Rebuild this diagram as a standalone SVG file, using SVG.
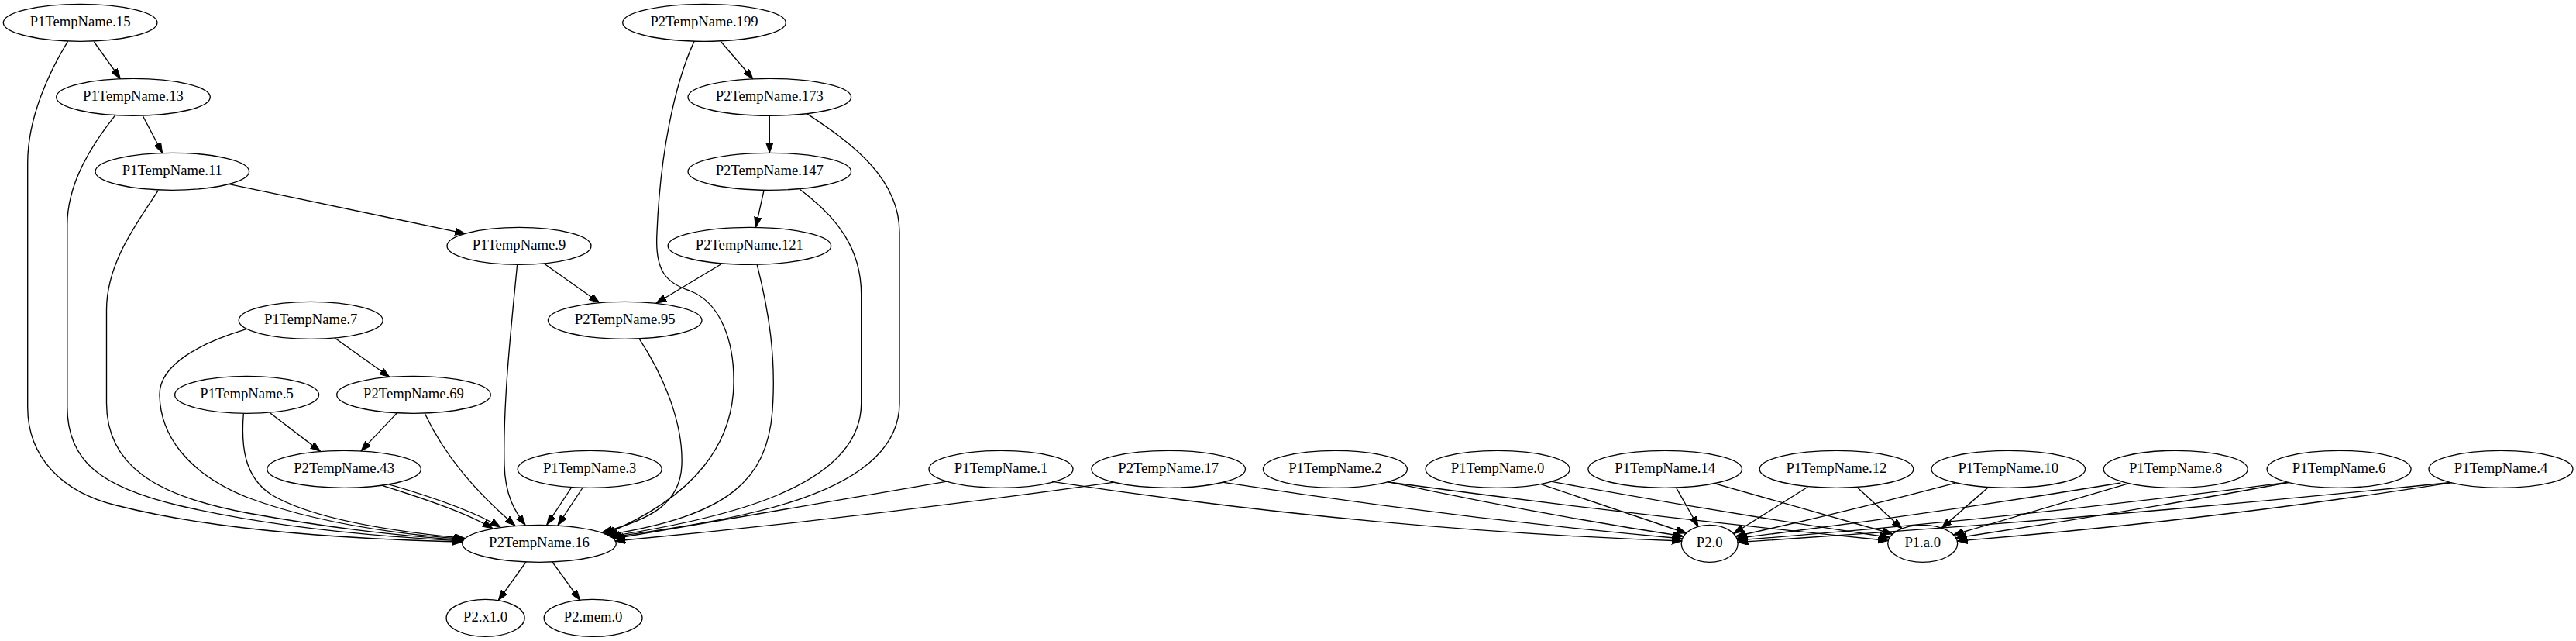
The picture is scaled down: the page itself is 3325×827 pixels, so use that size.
<svg xmlns="http://www.w3.org/2000/svg" width="3325" height="827" viewBox="0 0 3325 827">
<style>
.n ellipse{fill:none;stroke:#000;stroke-width:1.33}
.n text{font-family:"Liberation Serif","Times New Roman",serif;font-size:18.67px;text-anchor:middle;fill:#000}
#edges path{fill:none;stroke:#000;stroke-width:1.33;marker-end:url(#arr)}
</style>
<defs>
<marker id="arr" markerUnits="userSpaceOnUse" markerWidth="14" markerHeight="10" refX="13.33" refY="4.67" orient="auto">
<path d="M0,0 L13.33,4.67 L0,9.33 z" fill="#000" stroke="#000" stroke-width="1"/>
</marker>
</defs>
<rect x="0" y="0" width="3325" height="827" fill="#fff"/>
<g id="edges">
<path d="M121.4,54 L155.4,101.6"/>
<path d="M87.5,53.3 C65,90 35.7,150 35.7,210 L35.7,525 C35.7,590 80,635 150,652 C260,680 420,695 597,699"/>
<path d="M184.6,150 L209.6,197.5"/>
<path d="M148.2,149.3 C120,185 86.8,235 86.8,290 L86.8,525 C86.8,595 130,628 230,652 C350,680 480,692 597.5,698"/>
<path d="M294.6,237.3 L600.4,301.4"/>
<path d="M204.3,245.7 C175,290 137.5,340 137.5,400 L137.5,520 C137.5,600 200,640 320,662 C420,680 500,690 598,697"/>
<path d="M702.2,340 L773.6,390.5"/>
<path d="M667.6,341.7 C660,420 649,520 651,600 C652,640 665,660 678,677.4"/>
<path d="M432.1,436 L502.9,486.5"/>
<path d="M317.9,424.7 C260,442 205,470 206,510 C207,560 240,610 320,642 C400,672 500,688 599,695.5"/>
<path d="M348.2,532.5 L413.6,582.4"/>
<path d="M314.3,533.7 C311,575 315,615 350,638 C400,668 500,685 600,694.5"/>
<path d="M512.5,532.7 L466,581.9"/>
<path d="M548.2,533.3 C575,590 615,635 665,678.2"/>
<path d="M492.9,626.2 C530,638 600,660 636,681.9"/>
<path d="M501.8,624.8 C540,636 610,658 646,680.3"/>
<path d="M737.9,628.5 L705.8,677.1"/>
<path d="M752.2,629 L720,677.7"/>
<path d="M930.8,54 L971.9,101.8"/>
<path d="M896.1,53.1 C870,110 852,200 848,300 C845,350 860,365 890,375 C930,390 948,440 947,495 C946,570 900,640 781,689"/>
<path d="M993.3,149.3 L993.3,197.3"/>
<path d="M1041.5,146.6 C1100,185 1161,230 1161,300 L1161,520 C1161,640 950,670 789,693"/>
<path d="M986.1,245.3 L975.4,293.4"/>
<path d="M1032.6,244.5 C1080,280 1111.7,320 1111.7,380 L1111.7,520 C1111.7,630 930,670 787,692"/>
<path d="M930.8,340.7 L846.9,391.3"/>
<path d="M977.2,341.5 C992,400 1002,460 997,530 C990,620 940,665 784,690"/>
<path d="M825,436.9 C860,490 882,550 880,600 C878,650 840,670 777,687"/>
<path d="M1222.3,621.2 L792,695"/>
<path d="M1436.6,622.3 Q1115,668 794,698"/>
<path d="M1358,621.3 Q1764.5,683.7 2171,698"/>
<path d="M1579.4,622.3 Q1875.5,668.6 2171.5,695"/>
<path d="M1790.6,621.3 Q1981.8,662.7 2173,692"/>
<path d="M1792,622 Q2114.7,665.7 2437.5,697.5"/>
<path d="M1988.8,624.7 L2177,688"/>
<path d="M2003,621.3 Q2221.25,661.4 2439.5,693.5"/>
<path d="M2163.8,629.7 L2192,679.5"/>
<path d="M2211.7,623.3 L2443,689"/>
<path d="M2333.3,628.3 L2237.6,688.5"/>
<path d="M2396.7,628.3 L2455,682"/>
<path d="M2523.3,623.3 Q2381.9,660.65 2240.5,692"/>
<path d="M2566,629 L2506,681.5"/>
<path d="M2737.4,623 Q2489.7,663.75 2242,694.5"/>
<path d="M2748,623.7 L2521.5,690"/>
<path d="M2952,622.3 Q2597.4,669.7 2242.8,697"/>
<path d="M2954,622.5 Q2739.3,662.25 2524.6,694"/>
<path d="M3163,622.5 Q2703,670 2243.1,699.5"/>
<path d="M3165,622.7 Q2845.6,672.3 2526.3,698"/>
<path d="M679,725 L643.3,774.6"/>
<path d="M712.9,725 L748.6,774.2"/>
</g>
<g id="n15" class="n"><ellipse cx="103.6" cy="29.3" rx="99.3" ry="24"/><text x="103.6" y="34.3">P1TempName.15</text></g>
<g id="n13" class="n"><ellipse cx="172" cy="125.3" rx="99.3" ry="24"/><text x="172" y="130.3">P1TempName.13</text></g>
<g id="n11" class="n"><ellipse cx="222.3" cy="221.3" rx="99.3" ry="24"/><text x="222.3" y="226.3">P1TempName.11</text></g>
<g id="n9" class="n"><ellipse cx="670" cy="317.3" rx="93" ry="24"/><text x="670" y="322.3">P1TempName.9</text></g>
<g id="n7" class="n"><ellipse cx="401.2" cy="413.3" rx="93" ry="24"/><text x="401.2" y="418.3">P1TempName.7</text></g>
<g id="n5" class="n"><ellipse cx="318.6" cy="509.3" rx="93" ry="24"/><text x="318.6" y="514.3">P1TempName.5</text></g>
<g id="n3" class="n"><ellipse cx="761.2" cy="605.3" rx="93" ry="24"/><text x="761.2" y="610.3">P1TempName.3</text></g>
<g id="n1" class="n"><ellipse cx="1292" cy="605.3" rx="93" ry="24"/><text x="1292" y="610.3">P1TempName.1</text></g>
<g id="n2" class="n"><ellipse cx="1723.4" cy="605.3" rx="93" ry="24"/><text x="1723.4" y="610.3">P1TempName.2</text></g>
<g id="n0" class="n"><ellipse cx="1933.1" cy="605.3" rx="93" ry="24"/><text x="1933.1" y="610.3">P1TempName.0</text></g>
<g id="n14" class="n"><ellipse cx="2149.2" cy="605.3" rx="99.3" ry="24"/><text x="2149.2" y="610.3">P1TempName.14</text></g>
<g id="n12" class="n"><ellipse cx="2370.5" cy="605.3" rx="99.3" ry="24"/><text x="2370.5" y="610.3">P1TempName.12</text></g>
<g id="n10" class="n"><ellipse cx="2592.3" cy="605.3" rx="99.3" ry="24"/><text x="2592.3" y="610.3">P1TempName.10</text></g>
<g id="n8" class="n"><ellipse cx="2808.2" cy="605.3" rx="93" ry="24"/><text x="2808.2" y="610.3">P1TempName.8</text></g>
<g id="n6" class="n"><ellipse cx="3019.1" cy="605.3" rx="93" ry="24"/><text x="3019.1" y="610.3">P1TempName.6</text></g>
<g id="n4" class="n"><ellipse cx="3228" cy="605.3" rx="93" ry="24"/><text x="3228" y="610.3">P1TempName.4</text></g>
<g id="p199" class="n"><ellipse cx="909" cy="29.3" rx="105.3" ry="24"/><text x="909" y="34.3">P2TempName.199</text></g>
<g id="p173" class="n"><ellipse cx="993.3" cy="125.3" rx="105.3" ry="24"/><text x="993.3" y="130.3">P2TempName.173</text></g>
<g id="p147" class="n"><ellipse cx="993.3" cy="221.3" rx="105.3" ry="24"/><text x="993.3" y="226.3">P2TempName.147</text></g>
<g id="p121" class="n"><ellipse cx="967.4" cy="317.3" rx="105.3" ry="24"/><text x="967.4" y="322.3">P2TempName.121</text></g>
<g id="p95" class="n"><ellipse cx="806.7" cy="413.3" rx="99.3" ry="24"/><text x="806.7" y="418.3">P2TempName.95</text></g>
<g id="p69" class="n"><ellipse cx="534" cy="509.3" rx="99.3" ry="24"/><text x="534" y="514.3">P2TempName.69</text></g>
<g id="p43" class="n"><ellipse cx="444.1" cy="605.3" rx="99.3" ry="24"/><text x="444.1" y="610.3">P2TempName.43</text></g>
<g id="p17" class="n"><ellipse cx="1508.2" cy="605.3" rx="99.3" ry="24"/><text x="1508.2" y="610.3">P2TempName.17</text></g>
<g id="p16" class="n"><ellipse cx="696" cy="701.3" rx="99.3" ry="24"/><text x="696" y="706.3">P2TempName.16</text></g>
<g id="p2_0" class="n"><ellipse cx="2206.7" cy="701.3" rx="36.5" ry="24"/><text x="2206.7" y="706.3">P2.0</text></g>
<g id="p1_a_0" class="n"><ellipse cx="2481.7" cy="701.3" rx="45" ry="24"/><text x="2481.7" y="706.3">P1.a.0</text></g>
<g id="p2_x1_0" class="n"><ellipse cx="626.6" cy="797.3" rx="50.5" ry="24"/><text x="626.6" y="802.3">P2.x1.0</text></g>
<g id="p2_mem_0" class="n"><ellipse cx="765.6" cy="797.3" rx="63.4" ry="24"/><text x="765.6" y="802.3">P2.mem.0</text></g>
</svg>
